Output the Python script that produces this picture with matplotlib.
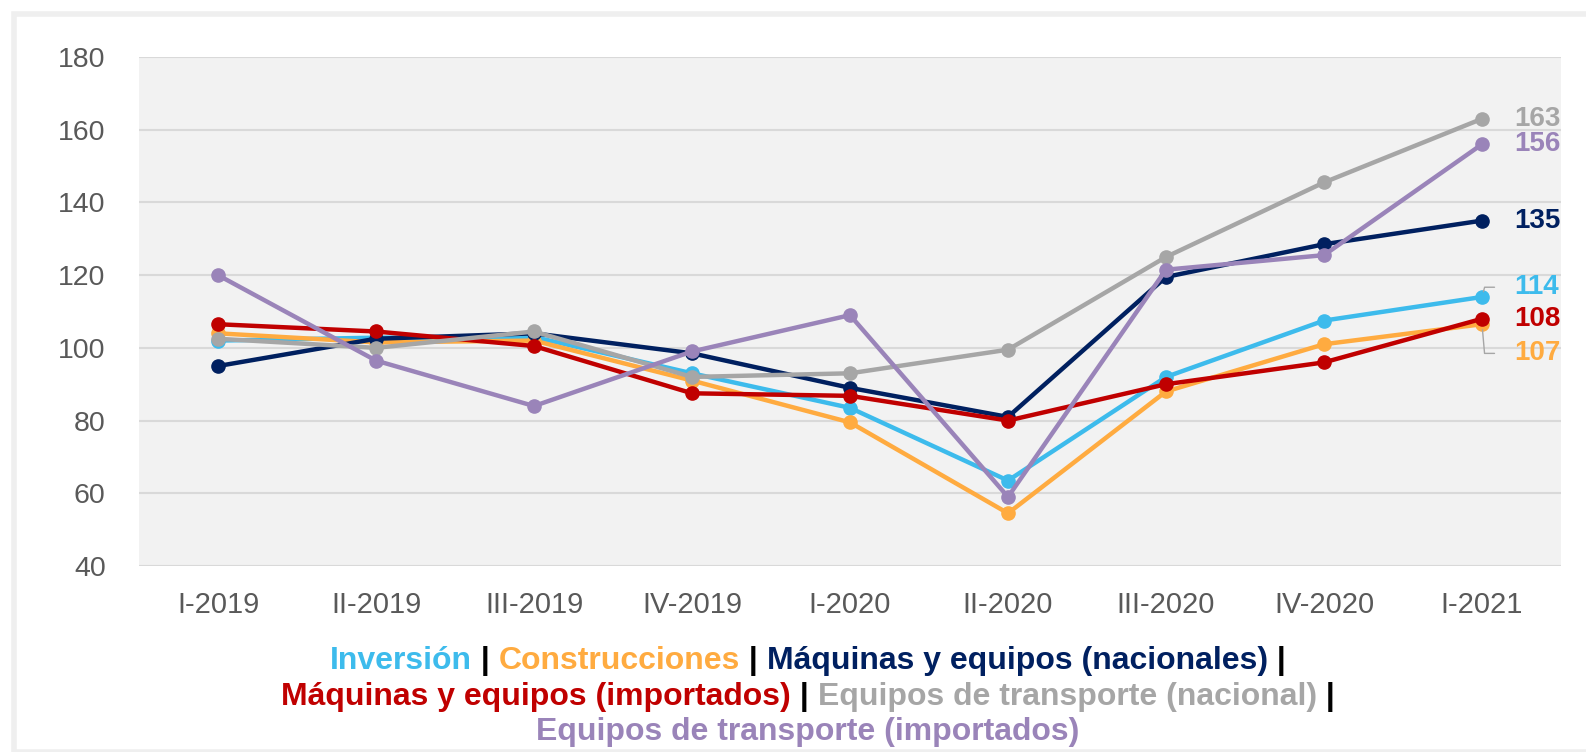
import numpy as np
import matplotlib
matplotlib.use('Agg')
import matplotlib.pyplot as plt
from matplotlib.patches import Rectangle
from matplotlib.offsetbox import TextArea, HPacker, VPacker, AnchoredOffsetbox

quarters = ['I-2019', 'II-2019', 'III-2019', 'IV-2019', 'I-2020',
            'II-2020', 'III-2020', 'IV-2020', 'I-2021']

inversion = [102, 102.8, 103, 93, 83.5, 63.5, 92, 107.5, 114]
construcciones = [104, 101.5, 102, 91, 79.5, 54.5, 88, 101, 106.5]
maq_nacionales = [95, 102.5, 104, 98.5, 89, 81, 119.5, 128.5, 135]
maq_importados = [106.5, 104.5, 100.5, 87.5, 86.8, 80, 90, 96, 108]
transp_nacional = [102.5, 100, 104.5, 92, 93, 99.5, 125, 145.5, 163]
transp_importados = [120, 96.5, 84, 99, 109, 59, 121.5, 125.5, 156]

series_names = ['Inversión', 'Construcciones', 'Máquinas y equipos (nacionales)',
                'Máquinas y equipos (importados)', 'Equipos de transporte (nacional)',
                'Equipos de transporte (importados)']
series_values = [inversion, construcciones, maq_nacionales,
                 maq_importados, transp_nacional, transp_importados]
colors = ['#3dbbec', '#ffab40', '#002060', '#c00000', '#a6a6a6', '#9a84b9']
end_labels = ['114', '107', '135', '108', '163', '156']

plt.rcParams['font.family'] = ['Liberation Sans', 'DejaVu Sans']

fig = plt.figure(figsize=(15.86, 7.52), dpi=100)
ax = fig.add_axes([139 / 1586, 1 - 566 / 752, 1422 / 1586, 509 / 752])
ax.set_facecolor('#f2f2f2')

x = np.arange(len(quarters))
for vals, col in zip(series_values, colors):
    ax.plot(x, vals, color=col, lw=3.2, marker='o', markersize=9.5, solid_capstyle='round')

# etiquetas al final de cada serie
offsets = {'114': 7, '107': -21}
for vals, col, lab in zip(series_values, colors, end_labels):
    dy = offsets.get(lab, 0)
    kw = dict(xy=(x[-1], vals[-1]), xytext=(23, dy), textcoords='offset points',
              color=col, fontsize=20, fontweight='bold', va='center', ha='left',
              annotation_clip=False, clip_on=True)
    if lab in offsets:
        kw['arrowprops'] = dict(arrowstyle='-', color='#a6a6a6', lw=1,
                                connectionstyle='angle,angleA=0,angleB=%d' % (75 if dy > 0 else -85),
                                relpos=(0, 0.5), shrinkA=12, shrinkB=4)
    ax.annotate(lab, **kw)

ax.set_xlim(-0.5, len(quarters) - 0.5)
ax.set_ylim(40, 180)
ax.set_yticks(np.arange(40, 181, 20))
ax.set_xticks(x)
ax.set_xticklabels(quarters)
ax.tick_params(length=0, labelsize=20.5, colors='#595959')
ax.tick_params(axis='x', pad=18, labelsize=21)
ax.tick_params(axis='y', pad=24)
ax.grid(axis='y', color='#d9d9d9', lw=1.5)
ax.set_axisbelow(True)
for s in ax.spines.values():
    s.set_visible(False)

# marco exterior
fig.patches.append(Rectangle((13.5 / 1586, 0.5 / 752), 1600 / 1586, 738 / 752,
                             transform=fig.transFigure, fill=False,
                             edgecolor='#efefef', lw=4))

# leyenda con texto coloreado
props = dict(fontsize=23, fontweight='bold')
def piece(t, c):
    return TextArea(t, textprops=dict(color=c, **props))

sep = ' | '
line1 = [piece(series_names[0], colors[0]), piece(sep, 'black'),
         piece(series_names[1], colors[1]), piece(sep, 'black'),
         piece(series_names[2], colors[2]), piece(' |', 'black')]
line2 = [piece(series_names[3], colors[3]), piece(sep, 'black'),
         piece(series_names[4], colors[4]), piece(' |', 'black')]
line3 = [piece(series_names[5], colors[5])]
rows = [HPacker(children=l, align='baseline', pad=0, sep=0) for l in (line1, line2, line3)]
box = VPacker(children=rows, align='center', pad=0, sep=4)
anchored = AnchoredOffsetbox(loc='upper center', child=box, frameon=False,
                             bbox_to_anchor=(808 / 1586, 1 - 646 / 752),
                             bbox_transform=fig.transFigure, borderpad=0, pad=0)
fig.add_artist(anchored)

fig.savefig('out.png', dpi=100)
